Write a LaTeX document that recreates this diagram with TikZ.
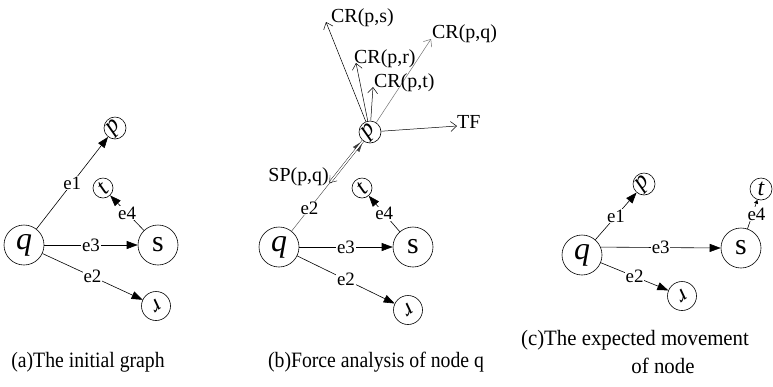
\documentclass[tikz,border=0pt]{standalone}
\usepackage{fontspec}
\usepackage{graphicx}
\setmainfont{Liberation Serif}
\usetikzlibrary{arrows.meta}
\begin{document}
\begin{tikzpicture}[x=1bp,y=-1bp,
  bignode/.style={circle,draw,line width=0.6pt,minimum size=40bp,inner sep=0pt},
  smallnode/.style={circle,draw,line width=0.6pt,minimum size=22bp,inner sep=0pt},
  midnode/.style={circle,draw,line width=0.6pt,minimum size=29bp,inner sep=0pt},
  qtext/.style={font=\fontsize{32}{32}\selectfont\itshape},
  stext/.style={font=\fontsize{30}{30}\selectfont},
  ltext/.style={font=\fontsize{24}{24}\selectfont\itshape},
  edgeline/.style={line width=0.6pt,-{Triangle[length=11bp,width=8bp]}},
  forceline/.style={line width=0.5pt,-{Straight Barb[length=6bp,width=10bp]}},
  elab/.style={fill=white,inner sep=0.6pt,font=\fontsize{19}{19}\selectfont},
  flab/.style={inner sep=0pt,font=\fontsize{20}{20}\selectfont},
  captext/.style={inner sep=0pt,font=\fontsize{22}{22}\selectfont,align=center}
]
\useasboundingbox (0,0) rectangle (773,386);

% ---------- (a) ----------
\node[bignode] (qa) at (24,245) {};
\node[qtext] at (qa) {q};
\node[bignode,stext] (sa) at (158,245) {s};
\node[smallnode] (pa) at (115,128) {};
\node[ltext,rotate=45] at (pa) {p};
\node[smallnode,minimum size=20bp] (ta) at (103,188) {};
\node[ltext,rotate=45] at (ta) {t};
\node[midnode] (ra) at (156,306) {};
\node[ltext,rotate=215] at (ra) {r};
\draw[edgeline] (qa) -- node[elab] {e1} (pa);
\draw[edgeline] (qa) -- node[elab] {e3} (sa);
\draw[edgeline] (qa) -- node[elab] {e2} (ra);
\draw[edgeline] (sa) -- node[elab] {e4} (ta);

% ---------- (b) ----------
\node[bignode] (qb) at (279,247) {};
\node[qtext] at (qb) {q};
\node[bignode,stext] (sb) at (413,247) {s};
\node[smallnode] (pb) at (370,132) {};
\node[ltext,rotate=45] at (pb) {p};
\node[smallnode,minimum size=20bp] (tb) at (362,188) {};
\node[ltext,rotate=45] at (tb) {t};
\node[midnode] (rb) at (408,310) {};
\node[ltext,rotate=215] at (rb) {r};
\draw[edgeline,line width=0.4pt,draw=black!75] (qb) -- node[elab,pos=0.25] {e2} (pb);
\draw[edgeline] (qb) -- node[elab] {e3} (sb);
\draw[edgeline] (qb) -- node[elab] {e2} (rb);
\draw[edgeline] (sb) -- node[elab] {e4} (tb);
\coordinate (spend) at (329.6,183);
\draw[double,double distance=1.6bp,line width=0.4pt,-{Straight Barb[length=6bp,width=9bp]}] (pb) -- (spend);
\node[flab,anchor=east] (splab) at (329,177) {SP(p,q)};
% forces
\coordinate (crs) at (326,22);
\coordinate (crr) at (356,63);
\coordinate (crt) at (373,87);
\coordinate (crq) at (431,39);
\coordinate (tf) at (457,126);
\draw[forceline] (pb) -- (crs);
\draw[forceline] (pb) -- (crr);
\draw[forceline] (pb) -- (crt);
\draw[forceline,draw=black!55] (pb) -- (crq);
\draw[forceline] (pb) -- (tf);
\node[flab,anchor=west] (lcrs) at (331,18) {CR(p,s)};
\node[flab,anchor=west] (lcrr) at (354,59) {CR(p,r)};
\node[flab,anchor=west] (lcrt) at (374,83) {CR(p,t)};
\node[flab,anchor=west] (lcrq) at (432,34) {CR(p,q)};
\node[flab,anchor=west] (ltf) at (457,122) {TF};

% ---------- (c) ----------
\node[bignode] (qc) at (582,255) {};
\node[qtext] at (qc) {q};
\node[bignode,stext] (sc) at (741,248) {s};
\node[smallnode] (pc) at (644,184) {};
\node[ltext,rotate=45] at (pc) {p};
\node[smallnode] (tc) at (761,189) {};
\node[ltext] at (tc) {t};
\node[midnode] (rc) at (682,296) {};
\node[ltext,rotate=215] at (rc) {r};
\draw[edgeline] (qc) -- node[elab] {e1} (pc);
\draw[edgeline] (qc.23) -- node[elab] {e3} (sc.west);
\draw[edgeline] (qc) -- node[elab] {e2} (rc);
\draw[edgeline,-{Triangle[length=4bp,width=4bp]}] (sc) -- node[elab,xshift=4bp] {e4} (tc);

% ---------- captions ----------
\node[captext] (capa) at (88,362) {\scalebox{0.9}[1]{(a)The initial graph}};
\node[captext] (capb) at (376,362) {\scalebox{0.9}[1]{(b)Force analysis of node q}};
\node[captext] (capc1) at (635,340) {\scalebox{0.95}[1]{(c)The expected movement}};
\node[captext] (capc2) at (663,366) {\scalebox{0.95}[1]{of node}};
\end{tikzpicture}
\end{document}
